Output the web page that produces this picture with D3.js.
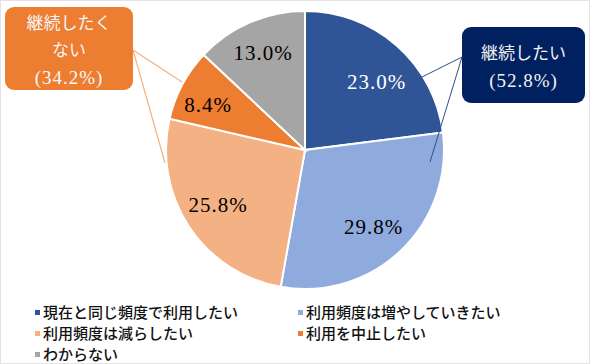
<!DOCTYPE html>
<html>
<head>
<meta charset="utf-8">
<script src="https://cdn.jsdelivr.net/npm/d3@7"></script>
<style>
  body { margin: 0; background: #fff; }
</style>
</head>
<body>
<div id="chart"></div>
<script>
var categories = ["現在と同じ頻度で利用したい", "利用頻度は増やしていきたい", "利用頻度は減らしたい", "利用を中止したい", "わからない"];
var values = [23.0, 29.8, 25.8, 8.4, 13.0];
var colors = ["#2F5597", "#8FAADC", "#F4B183", "#ED7D31", "#A5A5A5"];
var labelColors = ["#fff", "#000", "#000", "#000", "#000"];
var groupLabels = [["継続したい", "(52.8%)"], ["継続したく", "ない", "(34.2%)"]];

var SERIF = "'Liberation Serif'";
var JP = "'Noto Sans CJK JP'";

var width = 590, height = 364,
    cx = 305, cy = 150, r = 139;

var svg = d3.select("#chart").append("svg")
  .attr("width", width)
  .attr("height", height);

svg.append("rect")
  .attr("x", 0.5).attr("y", 0.5)
  .attr("width", width - 1).attr("height", height - 1)
  .attr("fill", "#fff").attr("stroke", "#e3e3e3");

var pie = d3.pie().sort(null).value(function(d) { return d; });
var arcs = pie(values);
var arc = d3.arc().innerRadius(0).outerRadius(r);

var g = svg.append("g").attr("transform", "translate(" + cx + "," + cy + ")");

g.selectAll("path")
  .data(arcs)
  .enter().append("path")
  .attr("d", arc)
  .attr("fill", function(d, i) { return colors[i]; })
  .attr("stroke", "#fff")
  .attr("stroke-width", 2);

// label positions as fraction of radius, plus small angle nudges (radians)
var labelRad = [0.71, 0.74, 0.74, 0.77, 0.76];
var labelNudge = [0.09, 0.03, 0.02, -0.05, 0];
g.selectAll("text.pct")
  .data(arcs)
  .enter().append("text")
  .attr("class", "pct")
  .attr("transform", function(d, i) {
    var a = (d.startAngle + d.endAngle) / 2 + labelNudge[i];
    var rr = r * labelRad[i];
    return "translate(" + (Math.sin(a) * rr) + "," + (-Math.cos(a) * rr) + ")";
  })
  .attr("text-anchor", "middle")
  .attr("dy", "0.35em")
  .style("font-family", SERIF)
  .style("font-size", "21px")
  .style("letter-spacing", "1px")
  .attr("fill", function(d, i) { return labelColors[i]; })
  .text(function(d) { return d.data.toFixed(1) + "%"; });

// navy box (継続したい)
var nb = {x: 462, y: 27, w: 123, h: 76};
[[412, 82], [430, 162]].forEach(function(p) {
  svg.append("line")
    .attr("x1", nb.x).attr("y1", 57)
    .attr("x2", p[0]).attr("y2", p[1])
    .attr("stroke", "#2F4E8A").attr("stroke-width", 1);
});
svg.append("rect")
  .attr("x", nb.x).attr("y", nb.y).attr("width", nb.w).attr("height", nb.h)
  .attr("rx", 9).attr("fill", "#002060");
svg.selectAll("text.nb")
  .data(groupLabels[0])
  .enter().append("text")
  .attr("x", nb.x + nb.w / 2)
  .attr("y", function(d, i) { return 53 + i * 27; })
  .attr("text-anchor", "middle")
  .attr("dy", "0.35em")
  .attr("fill", "#f2f2f2")
  .style("font-family", function(d, i) { return i === 0 ? JP : SERIF; })
  .style("font-size", function(d, i) { return i === 0 ? "17px" : "19px"; })
  .style("letter-spacing", function(d, i) { return i === 0 ? "0px" : "1px"; })
  .text(function(d) { return d; });

// orange box (継続したくない)
var ob = {x: 5, y: 7, w: 128, h: 83};
[[182, 82], [165, 163]].forEach(function(p) {
  svg.append("line")
    .attr("x1", ob.x + ob.w).attr("y1", 50)
    .attr("x2", p[0]).attr("y2", p[1])
    .attr("stroke", "#F4B183").attr("stroke-width", 1.2);
});
svg.append("rect")
  .attr("x", ob.x).attr("y", ob.y).attr("width", ob.w).attr("height", ob.h)
  .attr("rx", 9).attr("fill", "#ED7D31");
svg.selectAll("text.ob")
  .data(groupLabels[1])
  .enter().append("text")
  .attr("x", ob.x + ob.w / 2)
  .attr("y", function(d, i) { return 23 + i * 27; })
  .attr("text-anchor", "middle")
  .attr("dy", "0.35em")
  .attr("fill", "#f7f7f7")
  .style("font-family", function(d, i) { return i < 2 ? JP : SERIF; })
  .style("font-size", function(d, i) { return i < 2 ? "17px" : "19px"; })
  .style("letter-spacing", function(d, i) { return i < 2 ? "0px" : "1px"; })
  .text(function(d) { return d; });

// legend
var legX = [35, 298], legY = [313, 334, 355];
var leg = svg.selectAll("g.leg")
  .data(categories)
  .enter().append("g")
  .attr("transform", function(d, i) {
    return "translate(" + legX[i % 2] + "," + legY[Math.floor(i / 2)] + ")";
  });
leg.append("rect")
  .attr("x", 0).attr("y", -3).attr("width", 5).attr("height", 5)
  .attr("fill", function(d, i) { return colors[i]; });
leg.append("text")
  .attr("x", 8)
  .attr("dy", "0.35em")
  .style("font-family", JP)
  .style("font-weight", 500)
  .style("font-size", "15px")
  .attr("fill", "#111")
  .text(function(d) { return d; });
</script>
</body>
</html>
